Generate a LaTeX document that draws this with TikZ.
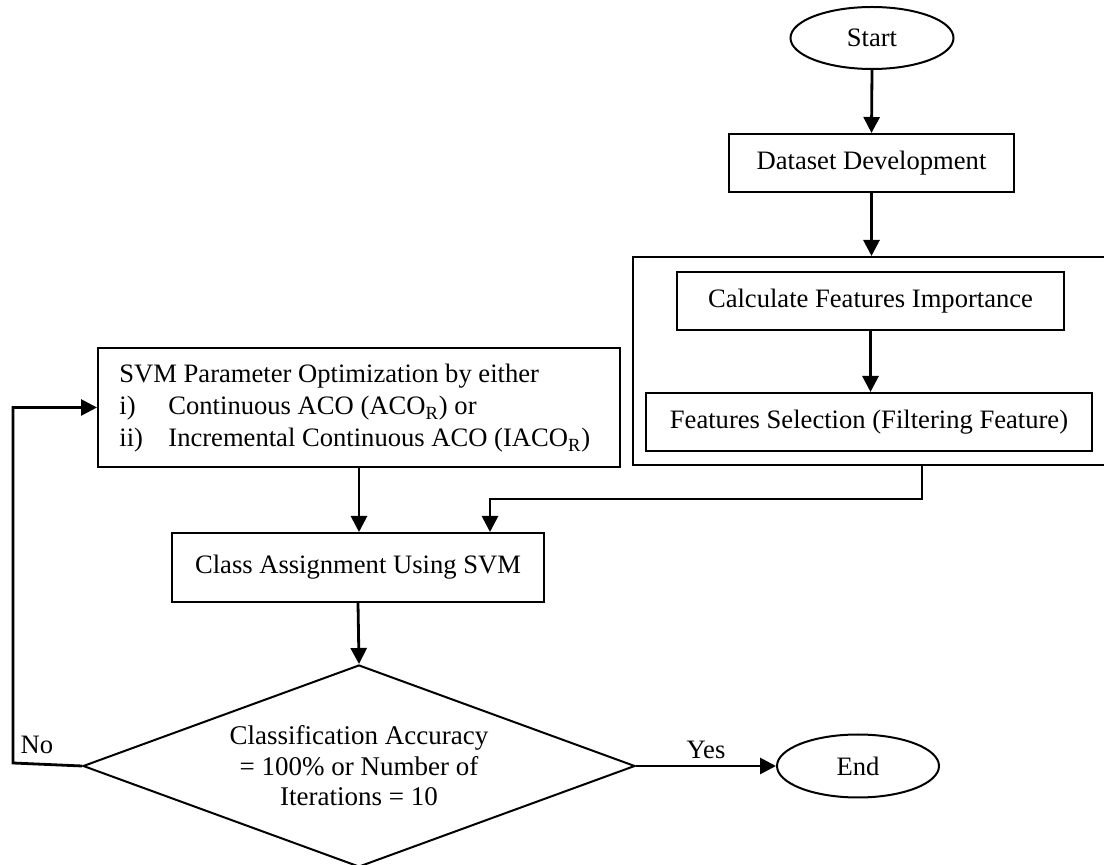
\documentclass[tikz,border=0pt]{standalone}
\usepackage{fontspec}
\setmainfont{Liberation Serif}
\usetikzlibrary{shapes.geometric,arrows.meta}
\begin{document}
\begin{tikzpicture}[x=0.5pt,y=-0.5pt,
  font=\fontsize{13.3}{16}\selectfont,
  box/.style={draw, line width=1pt, inner sep=0pt, align=center},
  term/.style={draw, ellipse, line width=1pt, inner sep=0pt},
  flow/.style={line width=1.4pt, -{Triangle[length=8pt,width=8pt]}},
  link/.style={line width=1pt}]
\useasboundingbox (0,0) rectangle (1104,865);

% terminals
\node[term, minimum width=81.5pt, minimum height=31pt] (start) at (872,38) {Start};
\node[term, minimum width=81pt, minimum height=31.5pt] (end) at (858,766) {End};

% feature branch
\node[box, minimum width=142.5pt, minimum height=29pt] (dataset) at (871.5,163) {Dataset Development};
\node[draw, line width=1pt, inner sep=0pt, minimum width=238.5pt, minimum height=104pt] (grp) at (871.5,361) {};
\node[box, minimum width=193.5pt, minimum height=29pt] (calc) at (870.5,301) {Calculate Features Importance};
\node[box, minimum width=223pt, minimum height=29pt] (sel) at (869,422) {Features Selection (Filtering Feature)};

% parameter optimisation
\node[box, minimum width=261pt, minimum height=59.5pt] (svm) at (359,407.5) {};
\node[anchor=base west, inner sep=0pt] (svmtitle) at (119,383) {SVM Parameter Optimization by either};
\node[anchor=base west, inner sep=0pt] (svmi) at (119,415) {i)};
\node[anchor=base west, inner sep=0pt] (svmitext) at (168,415) {Continuous ACO (ACO\textsubscript{R}) or};
\node[anchor=base west, inner sep=0pt] (svmii) at (119,447) {ii)};
\node[anchor=base west, inner sep=0pt] (svmiitext) at (168,447) {Incremental Continuous ACO (IACO\textsubscript{R})};

% classification
\node[box, minimum width=186pt, minimum height=34.5pt] (class) at (358,567.5) {Class Assignment Using SVM};
\node[draw, diamond, line width=1pt, inner sep=0pt, aspect=2.7,
      minimum width=276pt, minimum height=101pt, align=center,
      font=\fontsize{13.5}{15.2}\selectfont] (dec) at (359,766)
  {Classification Accuracy\\= 100\% or Number of\\Iterations = 10};

% connectors
\draw[flow] (start.south) -- (dataset.north);
\draw[flow] (dataset.south) -- (dataset.south |- grp.north);
\draw[flow] (calc.south) -- (calc.south |- sel.north);
\draw[flow] (svm.south) -- (svm.south |- class.north);
\coordinate (gout) at (922,465);
\coordinate (gturn) at (922,499);
\draw[flow] (gout) -- (gturn) -| ([xshift=66pt]class.north);
\draw[flow] (class.south) -- (dec.north);
\draw[flow] (dec.east) -- node[above, inner sep=3pt] (yes) {Yes} (end.west);
\coordinate (lp) at (13,763);
\draw[flow] (dec.west) -- (lp) |- (svm.west);
\node (no) at (37,745) {No};
\end{tikzpicture}
\end{document}
